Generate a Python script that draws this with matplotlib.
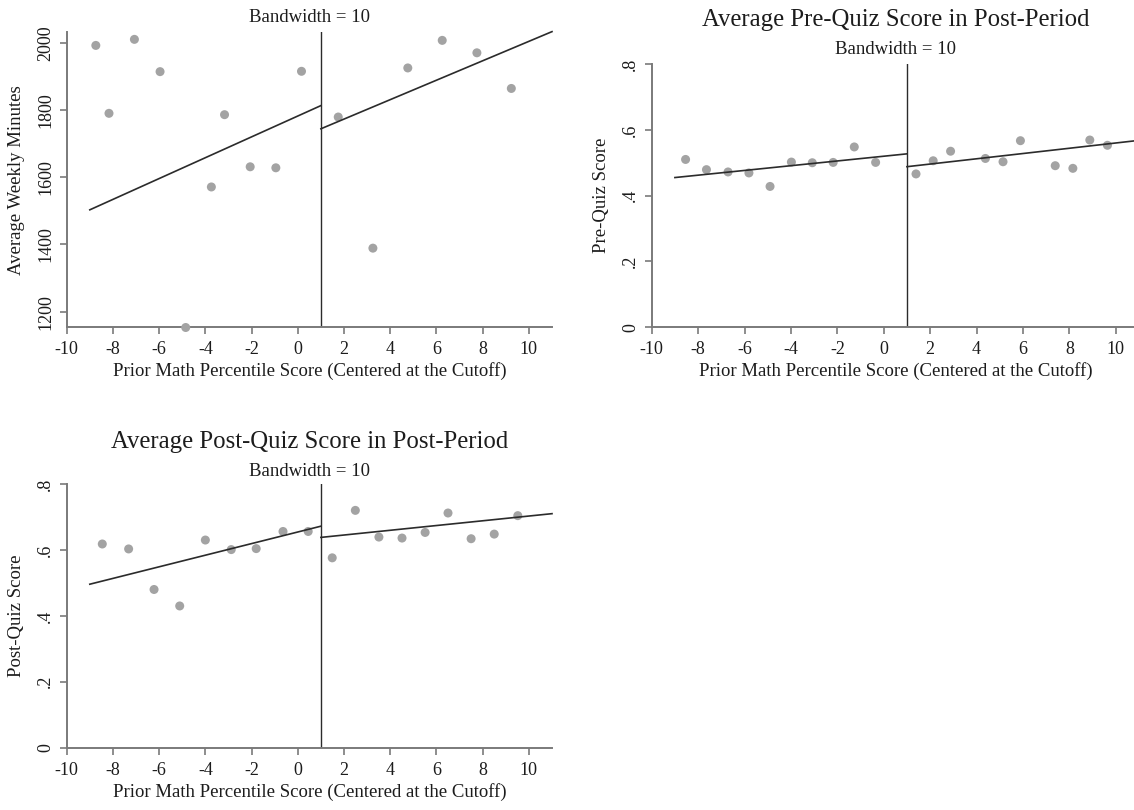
import matplotlib
matplotlib.use("Agg")
import matplotlib.pyplot as plt
from matplotlib.ticker import FixedLocator, FuncFormatter

plt.rcParams["font.family"] = ["Liberation Serif", "DejaVu Serif"]

W, H = 1134, 810
CUTOFF = 1
X_TICKS = list(range(-10, 11, 2))
X_LABEL = "Prior Math Percentile Score (Centered at the Cutoff)"
SUBTITLE = "Bandwidth = 10"

# binned means: average weekly minutes
minutes_x = [-8.74, -8.17, -7.07, -5.96, -4.85, -3.74, -3.17, -2.06, -0.95, 0.16,
             1.75, 3.25, 4.76, 6.25, 7.75, 9.24]
minutes_y = [1992, 1790, 2010, 1914, 1153, 1571, 1786, 1631, 1628, 1915,
             1779, 1389, 1925, 2007, 1970, 1864]
minutes_fit_left = ([-9, 1], [1503, 1813])
minutes_fit_right = ([1, 11], [1744, 2033])
minutes_ticks = [1200, 1400, 1600, 1800, 2000]

# binned means: pre-quiz score
pre_x = [-8.54, -7.64, -6.71, -5.81, -4.90, -3.98, -3.08, -2.18, -1.27, -0.35,
         1.39, 2.13, 2.88, 4.38, 5.14, 5.89, 7.39, 8.15, 8.88, 9.64]
pre_y = [0.510, 0.479, 0.472, 0.469, 0.428, 0.502, 0.500, 0.501, 0.548, 0.501,
         0.466, 0.506, 0.535, 0.513, 0.503, 0.567, 0.491, 0.483, 0.569, 0.553]
pre_fit_left = ([-9, 1], [0.455, 0.527])
pre_fit_right = ([1, 11], [0.488, 0.568])

# binned means: post-quiz score
post_x = [-8.46, -7.32, -6.22, -5.11, -4.00, -2.88, -1.80, -0.64, 0.45,
          1.49, 2.49, 3.51, 4.51, 5.51, 6.50, 7.50, 8.50, 9.52]
post_y = [0.618, 0.603, 0.480, 0.430, 0.630, 0.601, 0.604, 0.656, 0.656,
          0.576, 0.720, 0.639, 0.636, 0.653, 0.712, 0.634, 0.648, 0.704]
post_fit_left = ([-9, 1], [0.496, 0.672])
post_fit_right = ([1, 11], [0.638, 0.710])

score_ticks = [0, 0.2, 0.4, 0.6, 0.8]

TEXT = "#1c1c1c"
AXIS = "#7a7a7a"
DOT = "#a3a3a3"
LINE = "#2b2b2b"


def add_axes_px(fig, left, top, right, bottom):
    return fig.add_axes([left / W, 1 - bottom / H, (right - left) / W, (bottom - top) / H])


def fig_text(fig, x, y, s, size):
    fig.text(x / W, 1 - y / H, s, ha="center", va="center", fontsize=size, color=TEXT)


def score_label(v, _pos):
    if v == 0:
        return "0"
    return f"{v:.1f}".lstrip("0")


def draw_panel(ax, box, xs, ys, fit_left, fit_right, ylim, yticks, yfmt, ylabel):
    left, top, right, bottom = box
    ax.scatter(xs, ys, s=42, color=DOT, edgecolors="none", zorder=3, clip_on=False)
    ax.plot(*fit_left, color=LINE, lw=1.2, zorder=4, clip_on=False)
    ax.plot(*fit_right, color=LINE, lw=1.2, zorder=4, clip_on=False)
    ax.axvline(CUTOFF, color=LINE, lw=1.0, zorder=2)

    ax.set_xlim(-10, 11)
    ax.set_ylim(*ylim)
    for side in ("top", "right"):
        ax.spines[side].set_visible(False)
    for side in ("left", "bottom"):
        ax.spines[side].set_color(AXIS)
        ax.spines[side].set_linewidth(1.4)

    ax.xaxis.set_major_locator(FixedLocator(X_TICKS))
    ax.xaxis.set_major_formatter(FuncFormatter(lambda v, p: f"{int(v)}"))
    ax.yaxis.set_major_locator(FixedLocator(yticks))
    ax.yaxis.set_major_formatter(FuncFormatter(yfmt))
    ax.tick_params(axis="both", direction="out", length=5, width=1.2, color=AXIS,
                   labelsize=13, labelcolor=TEXT)
    ax.tick_params(axis="x", pad=5)
    ax.tick_params(axis="y", pad=4)
    for lab in ax.get_yticklabels():
        lab.set_rotation(90)
        lab.set_va("center")

    w_px = right - left
    h_px = bottom - top
    ax.set_xlabel(X_LABEL, fontsize=13.5, color=TEXT, va="center")
    ax.xaxis.set_label_coords(0.5, -44 / h_px)
    ax.set_ylabel(ylabel, fontsize=13.5, color=TEXT, va="center")
    ax.yaxis.set_label_coords(-50 / w_px, 0.5)


fig = plt.figure(figsize=(W / 100, H / 100), dpi=100)

tl_box = (66.7, 32.3, 552, 327.3)
tr_box = (651.7, 64, 1139, 327.3)
bl_box = (66.7, 484, 552, 747.7)

ax1 = add_axes_px(fig, *tl_box)
draw_panel(ax1, tl_box, minutes_x, minutes_y, minutes_fit_left, minutes_fit_right,
           (1153.6, 2031), minutes_ticks, lambda v, p: f"{int(v)}",
           "Average Weekly Minutes")
fig_text(fig, (tl_box[0] + tl_box[2]) / 2, 17, SUBTITLE, 13.5)

ax2 = add_axes_px(fig, *tr_box)
draw_panel(ax2, tr_box, pre_x, pre_y, pre_fit_left, pre_fit_right,
           (0, 0.8), score_ticks, score_label, "Pre-Quiz Score")
fig_text(fig, (tr_box[0] + tr_box[2]) / 2, 20, "Average Pre-Quiz Score in Post-Period", 17.8)
fig_text(fig, (tr_box[0] + tr_box[2]) / 2, 50, SUBTITLE, 13.5)

ax3 = add_axes_px(fig, *bl_box)
draw_panel(ax3, bl_box, post_x, post_y, post_fit_left, post_fit_right,
           (0, 0.8), score_ticks, score_label, "Post-Quiz Score")
fig_text(fig, (bl_box[0] + bl_box[2]) / 2, 442, "Average Post-Quiz Score in Post-Period", 17.8)
fig_text(fig, (bl_box[0] + bl_box[2]) / 2, 471, SUBTITLE, 13.5)

fig.savefig("out.png", dpi=100, facecolor="white")
